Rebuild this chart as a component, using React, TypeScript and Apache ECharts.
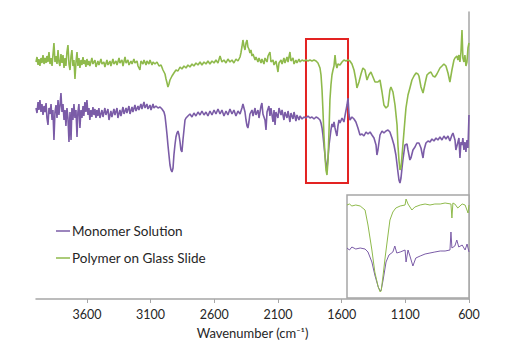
import React, { useEffect, useRef } from "react";
import * as echarts from "echarts";

// Main spectra: [wavenumber (cm-1), relative transmittance (a.u.)]
const polymerSpectrum: [number, number][] = [
  [4000,237],[3992,242],[3984,234],[3977,240],[3969,233],[3961,241],[3953,236],[3945,244],[3937,235],[3929,241],
  [3921,236],[3914,243],[3906,237],[3898,247],[3890,235],[3882,241],[3874,233],[3867,244],[3859,256],[3851,237],
  [3843,243],[3835,235],[3827,249],[3820,237],[3812,233],[3804,245],[3796,236],[3788,244],[3780,231],[3772,241],
  [3765,233],[3757,247],[3749,254],[3741,235],[3733,229],[3725,243],[3718,249],[3710,233],[3702,239],[3694,220],
  [3686,237],[3678,247],[3671,233],[3663,241],[3655,231],[3647,239],[3639,234],[3631,242],[3624,235],[3616,239],
  [3608,232],[3600,240],[3592,234],[3584,238],[3577,233],[3561,241],[3553,235],[3537,239],[3529,232],[3514,238],
  [3506,234],[3490,240],[3482,235],[3467,237],[3459,232],[3443,239],[3435,234],[3419,238],[3412,233],[3396,240],
  [3388,235],[3372,238],[3364,234],[3348,241],[3341,236],[3325,239],[3317,233],[3301,242],[3293,236],[3278,239],
  [3270,234],[3254,238],[3246,235],[3231,240],[3223,236],[3207,238],[3199,233],[3184,229],[3176,238],[3160,235],
  [3152,239],[3136,234],[3129,238],[3113,235],[3105,239],[3089,234],[3081,237],[3066,235],[3050,237],[3034,233],
  [3018,234],[3003,229],[2987,225],[2979,220],[2971,216],[2964,212],[2956,215],[2948,219],[2932,223],[2917,226],
  [2901,229],[2885,228],[2869,232],[2854,230],[2838,233],[2822,231],[2807,234],[2791,232],[2775,235],[2760,233],
  [2744,236],[2728,234],[2712,237],[2697,234],[2681,237],[2665,235],[2650,238],[2634,235],[2618,238],[2602,236],
  [2587,239],[2571,236],[2555,243],[2540,237],[2524,239],[2508,236],[2493,240],[2477,237],[2461,239],[2446,236],
  [2430,240],[2414,238],[2398,242],[2391,246],[2383,252],[2375,259],[2367,253],[2359,249],[2351,256],[2343,259],
  [2336,252],[2328,250],[2320,246],[2312,249],[2304,243],[2296,245],[2280,239],[2273,242],[2257,237],[2249,241],
  [2233,236],[2226,240],[2210,235],[2202,241],[2186,237],[2178,243],[2163,247],[2155,237],[2139,239],[2131,234],
  [2116,238],[2108,233],[2100,227],[2092,236],[2076,239],[2068,235],[2053,241],[2045,236],[2029,242],[2021,237],
  [2006,247],[1998,238],[1982,241],[1974,235],[1959,239],[1951,236],[1935,240],[1927,237],[1911,239],[1896,238],
  [1880,239],[1864,238],[1849,239],[1833,238],[1817,239],[1801,238],[1786,236],[1770,231],[1762,224],[1754,209],
  [1747,189],[1739,164],[1731,144],[1723,129],[1715,124],[1707,139],[1699,169],[1692,199],[1684,214],[1676,224],
  [1668,229],[1660,233],[1652,244],[1645,235],[1637,231],[1629,235],[1613,234],[1597,237],[1582,239],[1566,238],
  [1550,239],[1535,238],[1519,235],[1503,229],[1488,219],[1480,211],[1464,217],[1448,225],[1433,231],[1417,229],
  [1401,219],[1386,224],[1370,227],[1354,222],[1338,217],[1315,217],[1299,219],[1283,207],[1268,194],[1252,191],
  [1236,193],[1221,209],[1213,212],[1197,207],[1181,194],[1165,174],[1158,154],[1150,139],[1142,129],[1134,131],
  [1119,154],[1103,179],[1095,191],[1079,204],[1064,211],[1048,219],[1032,223],[1016,226],[1001,225],[993,223],
  [977,212],[961,206],[946,215],[930,224],[914,226],[899,227],[883,223],[867,222],[852,225],[836,229],
  [828,231],[812,233],[797,235],[781,233],[765,226],[750,217],[734,229],[718,239],[710,241],[695,243],
  [687,239],[679,244],[671,237],[663,247],[655,269],[648,241],[640,237],[632,244],[624,233],[616,237],
  [608,251],[600,256]
];

const monomerSpectrum: [number, number][] = [
  [4000,191],[3992,186],[3984,197],[3977,189],[3969,199],[3961,187],[3953,195],[3945,184],[3937,193],[3929,187],
  [3921,196],[3914,181],[3906,174],[3898,191],[3890,185],[3882,195],[3874,179],[3867,189],[3859,159],[3851,187],
  [3843,194],[3835,181],[3827,199],[3820,184],[3812,193],[3804,206],[3796,187],[3788,195],[3780,179],[3772,189],
  [3765,173],[3757,191],[3749,181],[3741,157],[3733,187],[3725,159],[3718,191],[3710,179],[3702,195],[3694,181],
  [3686,189],[3678,162],[3671,187],[3663,195],[3655,171],[3647,189],[3639,181],[3631,193],[3624,183],[3616,197],
  [3608,187],[3600,199],[3592,184],[3584,191],[3577,179],[3569,189],[3561,182],[3553,192],[3545,184],[3537,190],
  [3529,181],[3522,189],[3514,183],[3506,191],[3498,181],[3482,189],[3474,182],[3459,191],[3451,184],[3435,190],
  [3427,179],[3412,188],[3404,182],[3388,190],[3380,184],[3364,191],[3357,181],[3341,189],[3333,183],[3317,192],
  [3309,185],[3293,191],[3286,186],[3270,193],[3262,185],[3246,192],[3239,187],[3223,194],[3215,188],[3199,193],
  [3192,189],[3176,195],[3168,190],[3152,197],[3144,191],[3129,195],[3121,190],[3105,194],[3097,189],[3081,195],
  [3074,191],[3058,193],[3042,191],[3026,192],[3011,190],[2995,187],[2987,183],[2979,174],[2971,164],[2964,154],
  [2956,144],[2948,134],[2940,129],[2932,127],[2924,131],[2917,144],[2909,154],[2901,162],[2893,166],[2885,168],
  [2877,164],[2869,157],[2862,149],[2854,147],[2846,159],[2838,169],[2830,179],[2822,181],[2807,183],[2791,185],
  [2775,182],[2760,186],[2744,183],[2728,187],[2712,184],[2697,188],[2681,184],[2665,187],[2650,183],[2634,188],
  [2618,184],[2602,189],[2587,185],[2571,190],[2555,185],[2540,189],[2524,183],[2508,188],[2493,184],[2477,190],
  [2461,185],[2446,189],[2430,183],[2414,188],[2398,185],[2383,191],[2375,195],[2359,187],[2351,179],[2343,173],
  [2336,171],[2328,177],[2320,185],[2304,189],[2296,183],[2280,191],[2273,184],[2257,189],[2249,181],[2233,193],
  [2226,196],[2218,185],[2202,179],[2194,169],[2186,187],[2171,193],[2163,183],[2155,191],[2139,177],[2131,189],
  [2123,174],[2116,187],[2100,181],[2092,191],[2076,184],[2068,189],[2053,179],[2045,187],[2029,181],[2021,188],
  [2006,177],[1998,186],[1982,180],[1974,187],[1959,178],[1951,184],[1935,179],[1927,183],[1911,180],[1896,182],
  [1880,181],[1864,183],[1849,181],[1833,182],[1817,180],[1801,182],[1786,181],[1770,179],[1762,176],[1754,171],
  [1747,164],[1739,154],[1731,144],[1723,134],[1715,131],[1707,141],[1699,154],[1692,161],[1684,169],[1676,175],
  [1668,172],[1660,177],[1652,171],[1645,167],[1637,163],[1629,173],[1621,179],[1613,176],[1597,181],[1582,177],
  [1574,183],[1558,194],[1550,201],[1542,184],[1535,179],[1519,182],[1503,180],[1488,177],[1472,171],[1456,164],
  [1440,165],[1425,163],[1409,167],[1393,165],[1377,167],[1362,164],[1346,161],[1330,154],[1323,144],[1315,149],
  [1299,164],[1283,168],[1268,166],[1252,168],[1236,169],[1221,167],[1205,161],[1189,154],[1174,144],[1158,127],
  [1150,119],[1142,116],[1134,121],[1126,131],[1119,139],[1103,154],[1087,155],[1079,149],[1064,139],[1056,141],
  [1040,149],[1024,152],[1009,156],[993,156],[977,151],[961,141],[953,149],[938,156],[922,158],[906,157],
  [891,160],[875,158],[859,161],[844,159],[828,162],[812,159],[797,163],[781,160],[765,163],[750,158],
  [734,164],[726,166],[710,159],[703,149],[687,157],[679,161],[671,141],[663,157],[655,154],[648,161],
  [640,149],[632,157],[624,147],[616,159],[608,151],[600,184]
];

// Inset (zoom on the carbonyl band)
const insetPolymer: [number, number][] = [
  [1785,93],[1780,94],[1775,92],[1767,93],[1758,92],[1748,88],[1742,73],[1734,48],[1728,26],[1721,11],
  [1717,6],[1715,7],[1711,23],[1707,40],[1701,63],[1697,78],[1691,86],[1685,90],[1676,92],[1666,93],
  [1664,99],[1660,94],[1652,88],[1646,91],[1635,93],[1625,94],[1615,93],[1605,94],[1594,94],[1584,95],
  [1572,94],[1570,80],[1568,95],[1564,94],[1558,90],[1549,94],[1543,93],[1537,85],[1535,93]
];
const insetMonomer: [number, number][] = [
  [1785,50],[1780,48],[1775,51],[1767,49],[1758,50],[1748,49],[1742,46],[1734,36],[1728,23],[1721,11],
  [1717,7],[1715,8],[1711,18],[1705,36],[1699,43],[1691,46],[1687,52],[1683,45],[1676,46],[1666,48],
  [1664,36],[1660,48],[1656,42],[1650,32],[1644,40],[1635,42],[1625,44],[1615,45],[1605,46],[1594,47],
  [1584,47],[1574,48],[1572,66],[1570,50],[1564,52],[1560,58],[1556,51],[1549,53],[1543,48],[1539,54],
  [1535,46]
];

const xTicks = [600, 1100, 1600, 2100, 2600, 3100, 3600];
const seriesNames = ["Monomer Solution", "Polymer on Glass Slide"];
const highlightBox = { fromWn: 1880, toWn: 1550, low: 116, high: 260 };

const GREEN = "#8fba4c";
const PURPLE = "#7b5ca7";
const GRAY = "#a6a6a6";
const FONT = "Lato, 'Liberation Sans', sans-serif";

export default function App() {
  const ref = useRef<HTMLDivElement>(null);
  useEffect(() => {
    if (!ref.current) return;
    const chart = echarts.init(ref.current, null, { renderer: "svg" });
    chart.setOption({
      animation: false,
      backgroundColor: "#ffffff",
      textStyle: { fontFamily: FONT },
      legend: {
        data: seriesNames,
        orient: "vertical",
        left: 51,
        top: 219,
        icon: "rect",
        itemWidth: 14,
        itemHeight: 1.5,
        itemGap: 13,
        textStyle: { fontSize: 13.5, color: "#262626", fontFamily: FONT, padding: [0, 0, 0, -3] },
        selectedMode: false,
      },
      grid: [
        { left: 36, right: 50, top: 12, bottom: 57 },
        {
          left: 347, top: 195, width: 122, height: 103, show: true,
          borderColor: GRAY, borderWidth: 1.5, backgroundColor: "#ffffff", z: 5,
        },
      ],
      xAxis: [
        {
          type: "value", gridIndex: 0, inverse: true, min: 600, max: 4000, interval: 500,
          axisLine: { show: true, lineStyle: { color: GRAY, width: 1.5 } },
          axisTick: { show: true, customValues: xTicks, length: 4, lineStyle: { color: GRAY } },
          axisLabel: {
            customValues: xTicks, color: "#262626", fontSize: 12.5, margin: 9, fontFamily: FONT,
            formatter: (v: number) => String(v),
          },
          splitLine: { show: false },
          name: "Wavenumber (cm⁻¹)",
          nameLocation: "middle",
          nameGap: 27,
          nameTextStyle: { fontSize: 13, color: "#262626", fontFamily: FONT },
        },
        {
          type: "value", gridIndex: 1, inverse: true, min: 1535, max: 1785,
          axisLine: { show: false },
          axisTick: { show: true, inside: true, customValues: [1665], length: 4, lineStyle: { color: GRAY } },
          axisLabel: { show: false },
          splitLine: { show: false },
        },
      ],
      yAxis: [
        {
          type: "value", gridIndex: 0, min: 0, max: 287, position: "right",
          axisLine: { show: true, lineStyle: { color: GRAY, width: 1.5 } },
          axisTick: { show: false }, axisLabel: { show: false }, splitLine: { show: false },
        },
        {
          type: "value", gridIndex: 1, min: 0, max: 103,
          axisLine: { show: false }, axisTick: { show: false },
          axisLabel: { show: false }, splitLine: { show: false },
        },
      ],
      series: [
        {
          name: seriesNames[0], type: "line", xAxisIndex: 0, yAxisIndex: 0,
          data: monomerSpectrum, showSymbol: false, symbol: "none",
          color: PURPLE, lineStyle: { color: PURPLE, width: 1.6 },
        },
        {
          name: seriesNames[1], type: "line", xAxisIndex: 0, yAxisIndex: 0,
          data: polymerSpectrum, showSymbol: false, symbol: "none",
          color: GREEN, lineStyle: { color: GREEN, width: 1.6 },
          markArea: {
            silent: true,
            itemStyle: { color: "rgba(0,0,0,0)", borderColor: "#e32322", borderWidth: 2 },
            data: [[
              { xAxis: highlightBox.fromWn, yAxis: highlightBox.low },
              { xAxis: highlightBox.toWn, yAxis: highlightBox.high },
            ]],
          },
        },
        {
          name: seriesNames[0], type: "line", xAxisIndex: 1, yAxisIndex: 1,
          data: insetMonomer, showSymbol: false, symbol: "none", z: 6,
          color: PURPLE, lineStyle: { color: PURPLE, width: 1 },
        },
        {
          name: seriesNames[1], type: "line", xAxisIndex: 1, yAxisIndex: 1,
          data: insetPolymer, showSymbol: false, symbol: "none", z: 6,
          color: GREEN, lineStyle: { color: GREEN, width: 1 },
        },
      ],
    });
    return () => chart.dispose();
  }, []);
  return (
    <div
      ref={ref}
      style={{ position: "absolute", left: 0, top: 0, width: 519, height: 356 }}
    />
  );
}
